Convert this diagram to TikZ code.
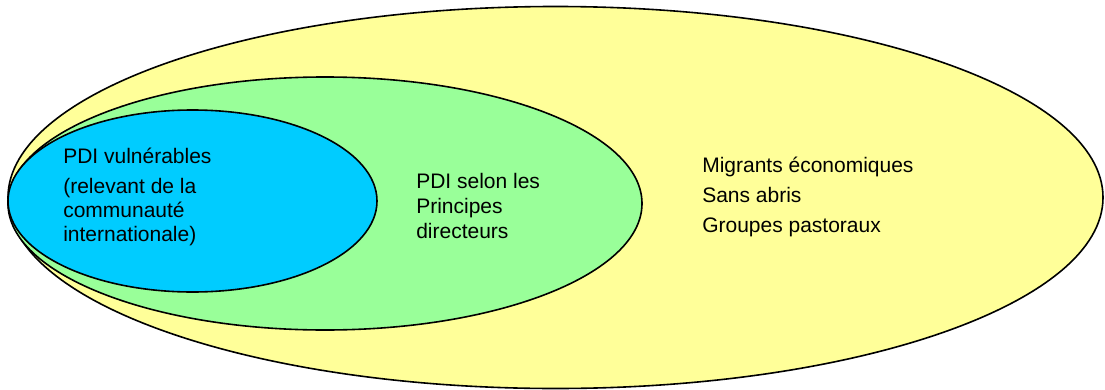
\documentclass[tikz,border=0pt]{standalone}
\usepackage{fontspec}
\setmainfont{Liberation Sans}
\usetikzlibrary{shapes.geometric}
\definecolor{zoneyellow}{RGB}{255,255,153}
\definecolor{zonegreen}{RGB}{153,255,153}
\definecolor{zoneblue}{RGB}{0,204,255}
\tikzset{
  zone/.style={ellipse, draw=black, line width=1.2pt, inner sep=0pt},
  zonetext/.style={anchor=base west, inner sep=0pt, align=left,
    font=\fontsize{15.75}{18}\selectfont}
}

\begin{document}
\begin{tikzpicture}[x=0.75pt,y=0.75pt,yscale=-1,xscale=1]
\useasboundingbox (0,0) rectangle (1105,389);

%Ellipse: outer group
\node [zone, fill=zoneyellow, minimum width=821.25pt, minimum height=286.5pt] (outer) at (555.5,197.5) {};
%Ellipse: PDI Principes directeurs
\node [zone, fill=zonegreen, minimum width=475.5pt, minimum height=189.75pt] (guiding) at (325,203.5) {};
%Ellipse: PDI vulnerables
\node [zone, fill=zoneblue, minimum width=276.75pt, minimum height=136.5pt] (vulnerable) at (192.5,201) {};

% Text Node (base = last line)
\node [zonetext] (vulntext) at (63,241) {PDI vulnérables\\[4.5pt](relevant de la\\communauté\\internationale)};
% Text Node
\node [zonetext] (guidetext) at (416,238) {PDI selon les\\[0.75pt]Principes\\[0.75pt]directeurs};
% Text Node
\node [zonetext] (othertext) at (702,232) {Migrants économiques\\[4.5pt]Sans abris\\[4.5pt]Groupes pastoraux};

\end{tikzpicture}
\end{document}
